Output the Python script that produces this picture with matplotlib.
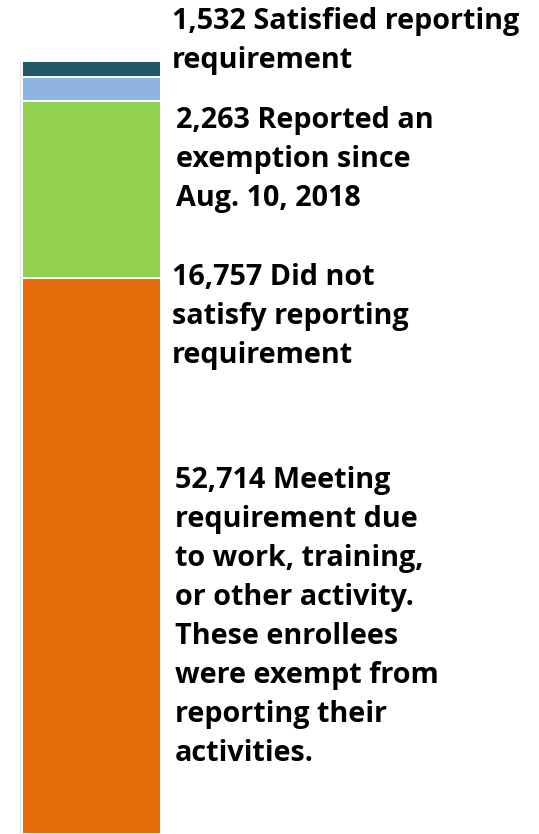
import matplotlib
matplotlib.use("Agg")
import matplotlib.pyplot as plt

# Data (bottom to top)
categories = ["Meeting requirement", "Did not satisfy", "Reported exemption", "Satisfied reporting"]
values = [52714, 16757, 2263, 1532]
colors = ["#E46C0A", "#92D050", "#8EB4E3", "#215968"]

labels = [
    "52,714 Meeting\nrequirement due\nto work, training,\nor other activity.\nThese enrollees\nwere exempt from\nreporting their\nactivities.",
    "16,757 Did not\nsatisfy reporting\nrequirement",
    "2,263 Reported an\nexemption since\nAug. 10, 2018",
    "1,532 Satisfied reporting\nrequirement",
]
# label anchor (pixel x, first-line baseline pixel y from top)
label_pos = [(175, 488), (172, 285), (176, 128), (172, 29)]
line_step = 39.0

W, H = 539, 834
fig = plt.figure(figsize=(W / 100, H / 100), dpi=100)
ax = fig.add_axes([0, 0, 1, 1])
total = sum(values)
bar_top_px = 61
ax.set_xlim(0, W)
ax.set_ylim(0, total * H / (H - bar_top_px))
ax.axis("off")

# faint shadow behind the bar
ax.bar(91, total, width=142, bottom=0, color="#e4e4e4", edgecolor="none", zorder=1)
bottom = 0
for v, c in zip(values, colors):
    ax.bar(91, v, width=139, bottom=bottom, color=c, edgecolor="white", linewidth=1.4, zorder=2)
    bottom += v

for lab, (x, y) in zip(labels, label_pos):
    for i, line in enumerate(lab.split("\n")):
        fig.text(x / W, 1 - (y + i * line_step) / H, line, fontsize=20.7, fontweight="bold",
                 family="Open Sans", color="black", ha="left", va="baseline")

fig.savefig("out.png", dpi=100)
